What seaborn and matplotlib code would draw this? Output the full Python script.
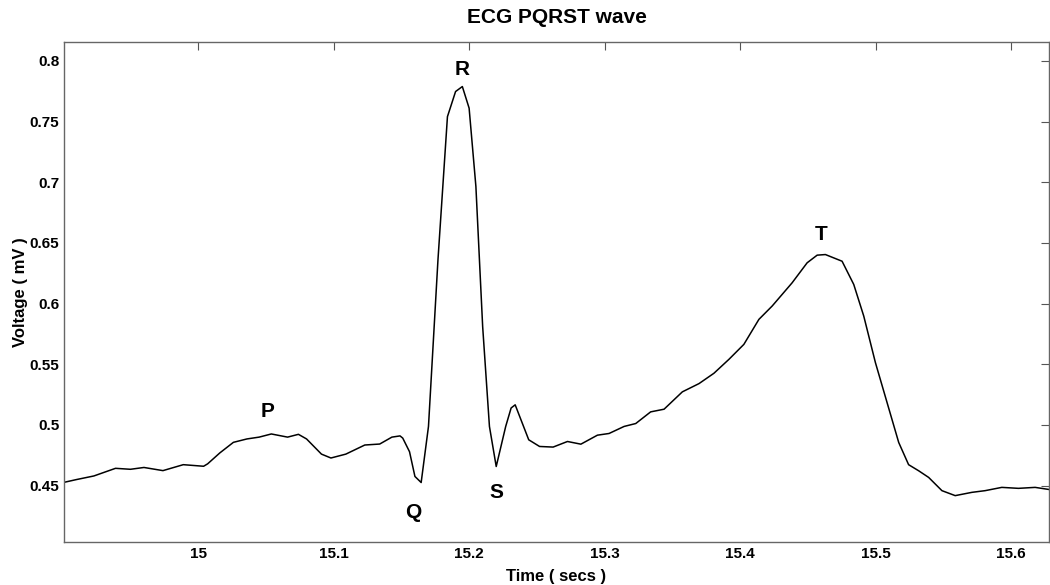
import pandas as pd
import seaborn as sns
import matplotlib.pyplot as plt

# ECG trace (secs, mV)
time = [14.898, 14.910, 14.923, 14.939, 14.950, 14.960, 14.974, 14.989, 15.004, 15.007,
        15.016, 15.026, 15.036, 15.045, 15.054, 15.066, 15.074, 15.080, 15.091, 15.098,
        15.109, 15.123, 15.134, 15.143, 15.149, 15.151, 15.156, 15.160, 15.1646, 15.170,
        15.177, 15.184, 15.190, 15.195, 15.200, 15.205, 15.210, 15.215, 15.220, 15.227,
        15.231, 15.234, 15.244, 15.252, 15.262, 15.2726, 15.2825, 15.2947, 15.3033, 15.3144,
        15.3230, 15.3340, 15.3439, 15.3574, 15.3697, 15.3807, 15.3918, 15.4028, 15.4139, 15.4237,
        15.4384, 15.4495, 15.4569, 15.4630, 15.4753, 15.4839, 15.4913, 15.4999, 15.5085, 15.5171,
        15.5244, 15.5318, 15.5392, 15.5490, 15.5588, 15.5711, 15.5809, 15.5932, 15.6055, 15.6178,
        15.6290]
voltage = [0.452, 0.455, 0.458, 0.4643, 0.4635, 0.465, 0.4624, 0.4673, 0.466, 0.468,
           0.477, 0.4857, 0.4885, 0.490, 0.4926, 0.490, 0.4923, 0.4885, 0.476, 0.4728,
           0.476, 0.4835, 0.4843, 0.490, 0.491, 0.4892, 0.478, 0.4576, 0.4526, 0.4988,
           0.636, 0.754, 0.7747, 0.7788, 0.761, 0.6965, 0.581, 0.4988, 0.4658, 0.4988,
           0.514, 0.5166, 0.4878, 0.4823, 0.4818, 0.4864, 0.4842, 0.4916, 0.493, 0.4988,
           0.5012, 0.5108, 0.513, 0.5273, 0.5341, 0.5426, 0.5541, 0.5664, 0.587, 0.598,
           0.6171, 0.6336, 0.6399, 0.6404, 0.6349, 0.6158, 0.5897, 0.5514, 0.5185, 0.4856,
           0.4673, 0.4623, 0.4568, 0.4459, 0.4418, 0.4445, 0.4459, 0.4486, 0.4478, 0.4486,
           0.4467]

wave_names = ["P", "Q", "R", "S", "T"]
wave_x = [15.051, 15.159, 15.195, 15.220, 15.4596]
wave_y = [0.511, 0.4275, 0.793, 0.444, 0.657]

x_ticks = [15, 15.1, 15.2, 15.3, 15.4, 15.5, 15.6]
y_ticks = [0.45, 0.5, 0.55, 0.6, 0.65, 0.7, 0.75, 0.8]

df = pd.DataFrame({"time": time, "voltage": voltage})

sns.set_style("white")
plt.rcParams["font.family"] = ["Liberation Sans", "DejaVu Sans"]
plt.rcParams["text.color"] = "black"
plt.rcParams["axes.labelcolor"] = "black"
plt.rcParams["xtick.labelcolor"] = "black"
plt.rcParams["ytick.labelcolor"] = "black"

fig = plt.figure(figsize=(10.5, 5.85), dpi=100)
ax = fig.add_axes([0.061, 0.0735, 0.938, 0.8545])

sns.lineplot(x="time", y="voltage", data=df, color="black", linewidth=1.1, ax=ax)

for name, x, y in zip(wave_names, wave_x, wave_y):
	ax.text(x, y, name, fontsize=15, fontweight="bold", ha="center", va="center", color="black")

ax.set_xlim(14.901, 15.628)
ax.set_ylim(0.4036, 0.8154)
ax.set_xticks(x_ticks)
ax.set_xticklabels([f"{t:g}" for t in x_ticks])
ax.set_yticks(y_ticks)
ax.set_yticklabels([f"{t:g}" for t in y_ticks])
ax.tick_params(direction="in", top=True, right=True, length=6, width=0.8,
               color="#555555", labelcolor="black", labelsize=11)
for lab in ax.get_xticklabels() + ax.get_yticklabels():
	lab.set_fontweight("bold")
for sp in ax.spines.values():
	sp.set_color("#666666")
	sp.set_linewidth(1)

ax.set_xlabel("Time ( secs )", fontsize=12, fontweight="bold", labelpad=6, color="black")
ax.set_ylabel("Voltage ( mV )", fontsize=12, fontweight="bold", labelpad=1, color="black")
ax.set_title("ECG PQRST wave", fontsize=15, fontweight="bold", pad=14, color="black")

fig.savefig("out.png", dpi=100)
